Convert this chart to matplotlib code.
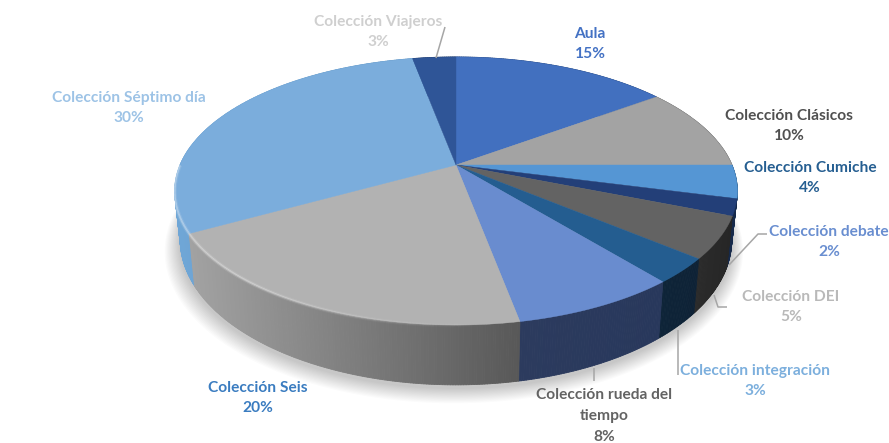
import numpy as np
import matplotlib
matplotlib.use("Agg")
import matplotlib.pyplot as plt
from matplotlib.patches import Polygon
from matplotlib.collections import PolyCollection, LineCollection
from matplotlib.colors import to_rgb

categories = ["Aula", "Colección Clásicos", "Colección Cumiche", "Colección debate", "Colección DEI",
              "Colección integración", "Colección rueda del\ntiempo", "Colección Seis",
              "Colección Séptimo día", "Colección Viajeros"]
values = [15, 10, 4, 2, 5, 3, 8, 20, 30, 3]
top_colors = ["#4270BF", "#A3A3A3", "#5596D4", "#233F78", "#636363",
              "#245D90", "#698CCF", "#B2B2B2", "#7BADDC", "#2F5597"]
side_left = ["#2A4A80", "#666666", "#2E5F8C", "#16294A", "#2B2B2B",
             "#0E2438", "#2C3B5E", "#A2A2A2", "#6FA6D6", "#1F3A66"]
side_right = ["#2A4A80", "#666666", "#2E5F8C", "#16294A", "#262626",
              "#0E2236", "#28385C", "#585858", "#6497C4", "#1F3A66"]
label_colors = ["#4472C4", "#505050", "#255E91", "#698ED0", "#B9B9B9",
                "#7CAFDD", "#636363", "#3A7CC0", "#9DC3E6", "#CFCFCF"]
label_pos = [(590, 44), (789, 126), (810, 178), (829, 242), (791, 307),
             (755, 381), (604, 416), (258, 398), (129, 108), (378, 32)]
leaders = [[(445, 27), (436, 58)],
           [(767, 234), (758, 234), (729, 265)],
           [(727, 307), (718, 307), (714, 295)],
           [(678, 375), (678, 330)],
           [(594, 368), (594, 381)]]

CX, CY, A, B_, P = 456, 165, 276, 129, 0.194


def top_xy(theta):
    u, v = np.sin(theta), np.cos(theta)
    w = 1 + P * v
    return CX + A * u / w, CY - B_ * v / w


def bottom_xy(theta):
    x, y = top_xy(theta)
    return CX + (x - CX) * 0.98, CY + 47 + (y - CY) * 1.08


fig = plt.figure(figsize=(8.89, 4.43), dpi=100)
ax = fig.add_axes([0, 0, 1, 1])
ax.set_xlim(0, 889)
ax.set_ylim(443, 0)
ax.axis("off")

# soft shadow
t = np.linspace(0, 2 * np.pi, 361)
bx, by = bottom_xy(t)
for k in range(14):
    g = 1 + (14 - k) * 0.0035
    ax.fill(CX + (bx - CX) * g - (14 - k) * 0.15, CY + 50 + (by - CY - 47) * g + (14 - k) * 0.5,
            color="black", alpha=0.014, lw=0, zorder=1)

edges = np.cumsum([0] + values) / sum(values) * 2 * np.pi

# walls, back to front
order = np.argsort([-np.cos((edges[i] + edges[i + 1]) / 2) for i in range(len(values))])
for i in order:
    th = np.linspace(edges[i], edges[i + 1], max(int(values[i] * 8), 12))
    xt, yt = top_xy(th)
    xb, yb = bottom_xy(th)
    c0, c1 = np.array(to_rgb(side_left[i])), np.array(to_rgb(side_right[i]))
    # colour runs from the slice's left end to its right end on screen
    span = max(xt.max() - xt.min(), 1)
    cols = [c0 + (c1 - c0) * ((xt[j] + xt[j + 1]) / 2 - xt.min()) / span for j in range(len(th) - 1)]
    quads = [[(xt[j], yt[j]), (xt[j + 1], yt[j + 1]), (xb[j + 1], yb[j + 1]), (xb[j], yb[j])]
             for j in range(len(th) - 1)]
    ax.add_collection(PolyCollection(quads, facecolors=cols, edgecolors=cols, linewidths=0.6, zorder=2))

# top face
for i in range(len(values)):
    th = np.linspace(edges[i], edges[i + 1], max(int(values[i] * 8), 12))
    xt, yt = top_xy(th)
    pts = [(CX, CY)] + list(zip(xt, yt))
    ax.add_patch(Polygon(pts, closed=True, facecolor=top_colors[i], edgecolor=top_colors[i], lw=0.3, zorder=3))

# rim bevel highlight
th = np.linspace(np.pi * 0.58, np.pi * 1.5, 300)
xt, yt = top_xy(th)
for w, al in [(3.0, 0.10), (1.4, 0.32)]:
    segs = [[(xt[j], yt[j] + 0.3), (xt[j + 1], yt[j + 1] + 0.3)] for j in range(len(th) - 1)]
    fade = np.clip((CX + 40 - xt[:-1]) / 240, 0, 1)
    rgba = [(1, 1, 1, al * a) for a in fade]
    ax.add_collection(LineCollection(segs, colors=rgba, linewidths=w, zorder=4))

# leaders
for pts in leaders:
    xs, ys = zip(*pts)
    ax.plot(xs, ys, color="#A6A6A6", lw=1.1, zorder=5, solid_capstyle="butt")

# labels
for name, val, col, (x, y) in zip(categories, values, label_colors, label_pos):
    ax.text(x, y, f"{name}\n{val}%", color=col, ha="center", va="center", fontsize=11.2,
            family="Lato", fontweight="bold", linespacing=1.6, zorder=6)

fig.savefig("out.png", dpi=100)
